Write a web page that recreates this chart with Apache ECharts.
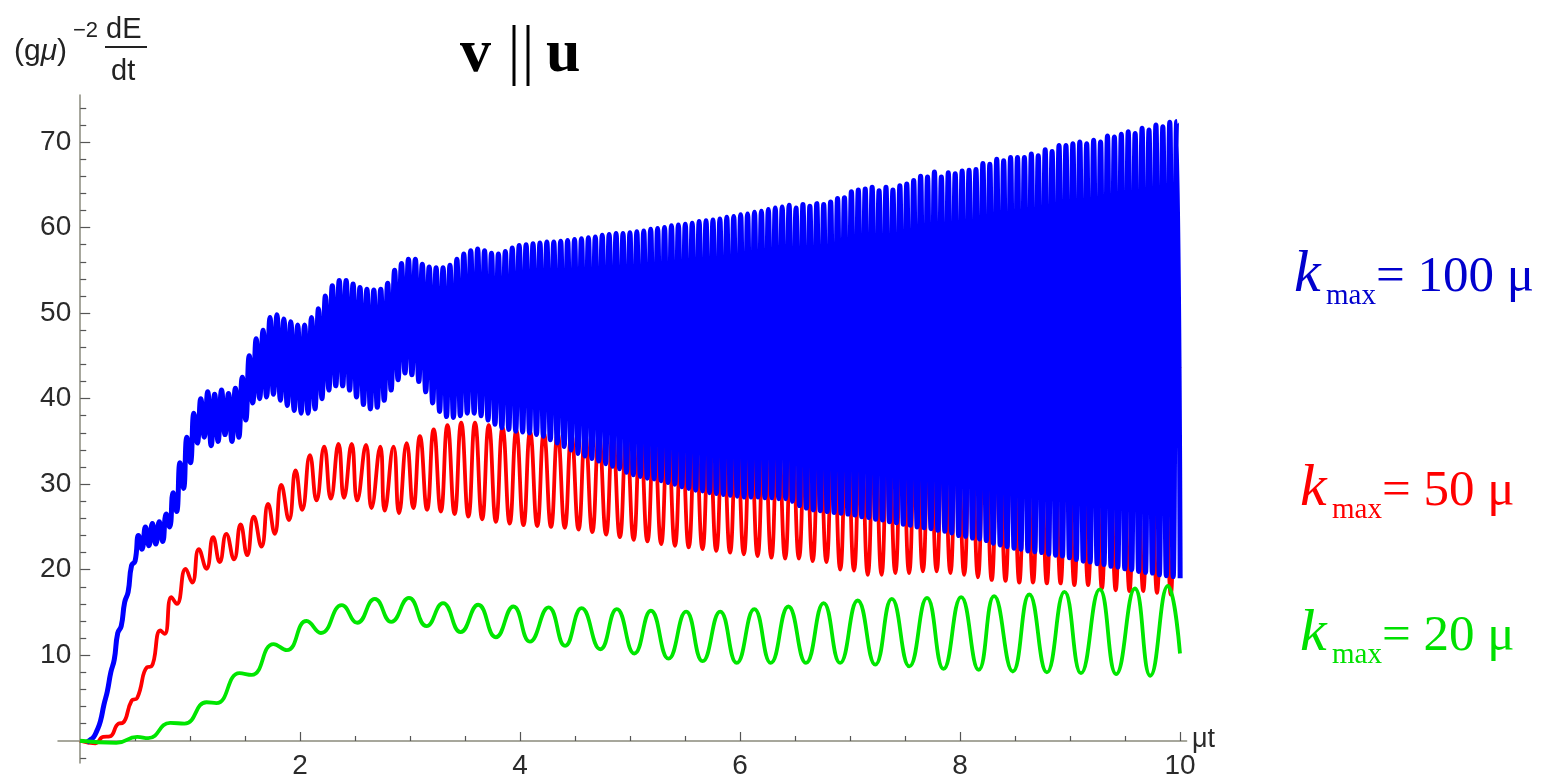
<!DOCTYPE html>
<html>
<head>
<meta charset="utf-8">
<script src="https://cdn.jsdelivr.net/npm/echarts@6/dist/echarts.min.js"></script>
<style>
html, body { margin: 0; padding: 0; background: #fff; }
#chart { width: 1551px; height: 781px; }
</style>
</head>
<body>
<div id="chart"></div>
<script>
// tick values
var xMajor = [2, 4, 6, 8, 10];
var xMinor = [0.5, 1, 1.5, 2.5, 3, 3.5, 4.5, 5, 5.5, 6.5, 7, 7.5, 8.5, 9, 9.5];
var yMajor = [10, 20, 30, 40, 50, 60, 70];
var yMinor = [-2, 2, 4, 6, 8, 12, 14, 16, 18, 22, 24, 26, 28, 32, 34, 36, 38,
              42, 44, 46, 48, 52, 54, 56, 58, 62, 64, 66, 68, 72, 74];

// k_max = 20 mu : peaks and troughs [t, value]
var greenPts = [[0,0],[0.33,-0.25],[0.52,0.45],[0.62,0.3],[0.82,2.1],[0.95,2.0],[1.15,4.5],[1.24,4.4],
  [1.45,7.9],[1.56,7.7],[1.76,11.3],[1.88,10.6],[2.06,14.0],[2.19,12.6],[2.38,15.85],[2.52,13.8],
  [2.68,16.6],[2.83,13.9],[2.99,16.7],[3.15,13.4],[3.30,16.1],[3.46,12.7],[3.62,15.9],[3.78,12.1],
  [3.94,15.7],[4.09,11.6],[4.26,15.6],[4.41,11.1],[4.56,15.5],[4.73,10.7],[4.88,15.4],[5.04,10.2],
  [5.19,15.2],[5.35,9.6],[5.51,15.1],[5.66,9.3],[5.82,15.1],[5.97,9.1],[6.13,15.4],[6.28,9.1],
  [6.44,15.7],[6.60,9.1],[6.76,16.1],[6.91,9.1],[7.07,16.4],[7.23,8.9],[7.38,16.6],[7.54,8.7],
  [7.70,16.7],[7.85,8.4],[8.01,16.8],[8.17,8.3],[8.31,16.9],[8.48,8.1],[8.63,17.1],[8.79,8.0],
  [8.95,17.4],[9.10,7.9],[9.27,17.7],[9.42,7.8],[9.59,17.8],[9.73,7.6],[9.89,18.1],[10.0,10.2]];

// k_max = 50 mu : rising part, then regular troughs / peaks
var redRise = [[0,0],[0.14,-0.3],[0.21,0.45],[0.27,0.5],[0.35,2.0],[0.39,2.1],[0.47,4.7],[0.52,5.0],
  [0.61,8.6],[0.65,8.7],[0.73,12.9],[0.77,12.5],[0.83,16.8],[0.88,16.0],[0.96,20.1],[1.02,18.5],
  [1.08,22.4],[1.15,20.1],[1.21,23.8],[1.27,20.9],[1.33,24.2],[1.40,21.2],[1.46,25.3],[1.52,21.7],
  [1.58,26.2],[1.65,22.7],[1.71,27.7],[1.77,24.2],[1.83,29.9],[1.90,25.8],[1.96,31.6],[2.02,27.0],
  [2.09,33.4],[2.15,28.1],[2.22,34.4],[2.28,28.3],[2.35,34.7],[2.40,28.4],[2.47,34.7],[2.52,28.1],
  [2.60,34.6],[2.65,27.2],[2.73,34.4],[2.77,26.9],[2.85,34.4],[2.90,26.6],[2.97,34.8]];
var redLoT0 = 3.03, redHiT0 = 3.09, redStep = 0.1252;
var redLo = [27.2,27.0,26.8,26.5,26.2,25.9,25.6,25.4,25.2,25.1,25.0,24.9,24.7,24.4,24.1,23.8,
  23.5,23.3,23.0,22.8,22.6,22.4,22.2,22.0,21.8,21.6,21.4,21.3,21.3,21.0,20.9,20.0,19.9,19.4,19.4,
  19.6,19.6,19.8,19.8,19.6,19.4,19.1,18.8,18.7,18.5,18.5,18.4,18.4,18.2,18.2,17.8,17.6,17.5,17.5,
  17.3,17.1];
var redHi = [35.6,36.4,36.9,37.2,37.2,36.9,36.6,36.3,36.1,36.0,35.9,35.8,35.8,35.8,35.8,35.8,
  35.9,36.0,36.1,36.2,36.3,36.4,36.5,36.6,36.7,36.8,36.9,37.0,37.2,37.4,37.6,37.8,38.0,38.2,38.4,
  38.6,38.8,39.0,39.2,39.4,39.6,39.8,40.0,40.3,40.6,40.9,41.2,41.5,41.8,42.1,42.4,42.7,43.0,43.3,
  43.6,43.9];
var redEnd = [10.0, 43.5];

// k_max = 100 mu : troughs and peaks of every fast cycle, half a cycle apart
var blueT0 = 0.06, blueHalf = 0.03146;
var blueLo = [-0.2,0.4,2.3,5.8,9.5,13.4,17.4,21.0,22.4,22.8,23.0,23.3,25.0,26.8,29.5,32.5,34.8,35.5,
  34.5,35.0,35.8,35.0,35.5,37.5,39.5,40.0,40.2,40.5,39.8,39.2,38.6,38.3,38.3,38.8,40.0,41.0,41.5,
  41.5,41.0,40.2,39.3,38.8,39.0,39.8,41.0,42.2,43.0,42.8,42.0,40.8,39.5,38.5,37.9,37.8,38.0,38.3,
  38.3,38.0,37.5,37.0,36.6,36.4,36.2,36.1,36.0,35.8,35.6,35.2,34.8,34.4,34.0,33.6,33.3,33.0,32.7,
  32.4,32.1,31.8,31.4,31.1,30.9,30.7,30.6,30.4,30.2,30.0,29.7,29.5,29.3,29.2,29.0,28.9,28.8,28.7,
  28.6,28.5,28.5,28.5,28.4,28.4,28.3,28.3,28.0,27.5,27.2,27.0,26.9,26.8,26.7,26.6,26.5,26.4,26.2,
  26.1,25.9,25.8,25.6,25.5,25.3,25.2,25.0,24.9,24.8,24.6,24.5,24.3,24.0,23.9,23.7,23.6,23.4,23.1,
  22.9,22.7,22.5,22.4,22.2,22.1,22.0,21.8,21.7,21.6,21.4,21.2,21.0,20.9,20.7,20.6,20.4,20.3,20.1,
  20.0,19.8,19.7,19.6,19.4,19.3,19.2,19.0];
var blueHi = [0.1,1.2,4.2,8.0,12.6,16.2,20.5,24.0,25.0,25.4,25.6,26.5,29.0,32.5,35.5,38.3,40.0,40.8,
  40.5,41.0,40.6,41.2,42.5,45.0,47.0,48.0,49.5,49.8,49.3,49.0,48.6,48.6,49.5,50.5,52.0,53.2,53.8,
  53.8,53.4,53.0,52.8,52.7,52.8,53.5,55.0,55.8,56.3,56.3,55.7,55.4,55.3,55.3,55.6,56.3,56.9,57.3,
  57.5,57.3,57.0,56.9,57.2,57.6,57.9,58.0,58.1,58.2,58.3,58.3,58.4,58.5,58.6,58.7,58.8,58.9,59.1,
  59.2,59.3,59.3,59.4,59.5,59.6,59.8,59.9,60.0,60.2,60.3,60.4,60.5,60.7,60.8,60.9,61.0,61.2,61.3,
  61.5,61.6,61.8,61.9,62.1,62.3,62.4,62.6,62.3,62.7,62.5,62.8,62.7,63.0,63.4,63.5,64.2,64.4,64.5,
  64.7,64.3,64.7,64.4,64.9,65.1,65.5,66.0,65.9,66.5,65.9,66.4,66.3,66.6,66.7,66.8,67.5,67.4,68.0,
  67.8,68.2,68.2,68.2,68.6,68.4,69.1,68.9,69.6,69.6,69.8,70.0,69.8,70.2,70.0,70.7,70.6,70.9,71.2,
  71.0,71.6,71.4,72.0,71.8,72.3,72.4];

var redData = redRise.slice();
for (var m = 0; m < redLo.length; m++) {
    redData.push([redLoT0 + m * redStep, redLo[m]]);
    redData.push([redHiT0 + m * redStep, redHi[m]]);
}
redData.push(redEnd);

var blueData = [];
for (var j = 0; j < blueLo.length + blueHi.length; j++) {
    var v = (j % 2 === 0) ? blueLo[j / 2] : blueHi[(j - 1) / 2];
    blueData.push([blueT0 + j * blueHalf, v]);
}

var myChart = echarts.init(document.getElementById('chart'));

var axisGrey = '#8a8a7c';
var tickGrey = '#555555';
var labelStyle = { fontSize: 28, fontFamily: 'Liberation Sans', color: '#2a2a2a' };

// plot box: x from -0.2 to 10.06, y from -2.6 to 75.5 ; axes cross at (0,0)
var xMin = -0.2, xMax = 10.06, yMin = -2.6, yMax = 75.5;
var gLeft = 58, gTop = 95, gW = 1128.6, gH = 668;
var xShift = -(0 - xMin) * gW / (xMax - xMin);
var yShift = -(0 - yMin) * gH / (yMax - yMin);

function legendText(x, base, col, num) {
    return [
        { type: 'text', x: x + 2, y: base - 48, style: { text: 'k', font: 'italic 60px "Liberation Serif"', fill: col } },
        { type: 'text', x: x + 34, y: base - 11, style: { text: 'max', font: '29px "Liberation Serif"', fill: col } },
        { type: 'text', x: x + 84, y: base - 41, style: { text: '= ' + num + ' \u03bc', font: '51px "Liberation Serif"', fill: col } }
    ];
}

var option = {
    animation: false,
    grid: { left: gLeft, top: gTop, width: gW, height: gH, containLabel: false, outerBoundsMode: 'none' },
    xAxis: [
        {
            type: 'value', min: xMin, max: xMax, position: 'bottom', offset: xShift,
            axisLine: { onZero: false, lineStyle: { color: axisGrey, width: 1.5 } },
            axisTick: { show: true, inside: true, length: 9, customValues: xMajor, lineStyle: { color: tickGrey, width: 1.2 } },
            axisLabel: Object.assign({ customValues: xMajor, margin: 11 }, labelStyle),
            splitLine: { show: false }
        },
        {
            type: 'value', min: xMin, max: xMax, position: 'bottom', offset: xShift,
            axisLine: { show: false, onZero: false },
            axisTick: { show: true, inside: true, length: 5, customValues: xMinor, lineStyle: { color: tickGrey, width: 1.2 } },
            axisLabel: { show: false },
            splitLine: { show: false }
        }
    ],
    yAxis: [
        {
            type: 'value', min: yMin, max: yMax, position: 'left', offset: yShift,
            axisLine: { onZero: false, lineStyle: { color: axisGrey, width: 1.5 } },
            axisTick: { show: true, inside: true, length: 10, customValues: yMajor, lineStyle: { color: tickGrey, width: 1.2 } },
            axisLabel: Object.assign({ customValues: yMajor, margin: 9 }, labelStyle),
            splitLine: { show: false }
        },
        {
            type: 'value', min: yMin, max: yMax, position: 'left', offset: yShift,
            axisLine: { show: false, onZero: false },
            axisTick: { show: true, inside: true, length: 6, customValues: yMinor, lineStyle: { color: tickGrey, width: 1.2 } },
            axisLabel: { show: false },
            splitLine: { show: false }
        }
    ],
    series: [
        {
            name: 'k50', type: 'line', data: redData, showSymbol: false, smooth: 0.5, clip: false,
            lineStyle: { color: '#ff0000', width: 3.8 }, silent: true
        },
        {
            name: 'k100', type: 'line', data: blueData, showSymbol: false, smooth: 0.5, clip: false,
            lineStyle: { color: '#0000ff', width: 5 }, silent: true
        },
        {
            name: 'k20', type: 'line', data: greenPts, showSymbol: false, smooth: 0.5, clip: false,
            lineStyle: { color: '#00e600', width: 3.8 }, silent: true
        }
    ],
    graphic: [
        // y axis title (g mu)^-2 dE/dt
        { type: 'text', x: 14, y: 37, style: { text: '(g{m|\u03bc})', font: '30px "Liberation Sans"', fill: '#222',
            rich: { m: { fontStyle: 'italic', fontSize: 30, fontFamily: 'Liberation Sans' } } } },
        { type: 'text', x: 73, y: 20, style: { text: '\u22122', font: '22px "Liberation Sans"', fill: '#222' } },
        { type: 'text', x: 106, y: 15, style: { text: 'dE', font: '29px "Liberation Sans"', fill: '#222' } },
        { type: 'line', shape: { x1: 105, y1: 47, x2: 147, y2: 47 }, style: { stroke: '#222', lineWidth: 2 } },
        { type: 'text', x: 111, y: 57, style: { text: 'dt', font: '29px "Liberation Sans"', fill: '#222' } },
        // title v || u
        { type: 'text', x: 460, y: 24, style: { text: 'v', font: 'bold 62px "Liberation Serif"', fill: '#000' } },
        { type: 'line', shape: { x1: 514, y1: 25, x2: 514, y2: 86 }, style: { stroke: '#000', lineWidth: 3 } },
        { type: 'line', shape: { x1: 528, y1: 25, x2: 528, y2: 86 }, style: { stroke: '#000', lineWidth: 3 } },
        { type: 'text', x: 546, y: 24, style: { text: 'u', font: 'bold 62px "Liberation Serif"', fill: '#000' } },
        // axis name
        { type: 'text', x: 1192, y: 726, style: { text: '\u03bct', font: '27px "Liberation Sans"', fill: '#2a2a2a' } }
    ].concat(
        legendText(1292, 293, '#0000cd', '100'),
        legendText(1298, 507, '#ff0000', '50'),
        legendText(1298, 652, '#00e000', '20')
    )
};

myChart.setOption(option);

window.onresize = function () {
    myChart.resize();
};
</script>
</body>
</html>
